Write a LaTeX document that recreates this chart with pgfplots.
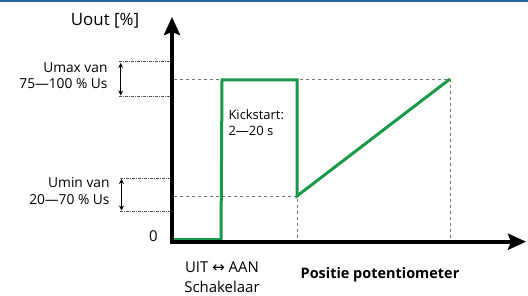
\documentclass[border=0pt]{standalone}
\usepackage{pgfplots}
\pgfplotsset{compat=1.18}
\usepackage{fontspec}
\setmainfont{Open Sans}
\newfontfamily\dejavu{DejaVu Sans}
\usetikzlibrary{arrows.meta}
\definecolor{grn}{HTML}{1A9A48}
\definecolor{topblue}{HTML}{2A64A0}
\definecolor{dgray}{HTML}{555555}
\definecolor{lgray}{HTML}{777777}
\begin{document}
\begin{tikzpicture}[x=1bp,y=1bp]
\path[use as bounding box] (0,0) rectangle (528,295);
\fill[topblue] (0,293.3) rectangle (528,295);
\begin{axis}[
  at={(0,0)}, anchor=south west,
  scale only axis, width=528bp, height=295bp,
  xmin=0, xmax=528, ymin=0, ymax=295,
  axis lines=none, ticks=none, clip=false,
]
% guide lines
\addplot[lgray, line width=0.9bp, dash pattern=on 3bp off 3bp] coordinates {(174,216) (450,216) (450,53)};
\addplot[lgray, line width=0.9bp, dash pattern=on 3bp off 3bp] coordinates {(174,99) (297,99) (297,53)};
% brackets
\addplot[dgray, line width=1bp, dash pattern=on 3bp off 1bp on 1bp off 1bp] coordinates {(119,233) (172,233)};
\addplot[dgray, line width=1bp, dash pattern=on 3bp off 1bp on 1bp off 1bp] coordinates {(119,198.5) (172,198.5)};
\addplot[dgray, line width=1bp, dash pattern=on 3bp off 1bp on 1bp off 1bp] coordinates {(120,117) (172,117)};
\addplot[dgray, line width=1bp, dash pattern=on 3bp off 1bp on 1bp off 1bp] coordinates {(120,83.5) (172,83.5)};
\draw[black, line width=1bp, {Stealth[length=5bp,width=5bp]}-{Stealth[length=5bp,width=5bp]}] (120.7,232) -- (120.7,199.5);
\draw[black, line width=1bp, {Stealth[length=5bp,width=5bp]}-{Stealth[length=5bp,width=5bp]}] (121.5,116) -- (121.5,84.5);
% green curve
\addplot[grn, line width=3bp, line join=miter] coordinates {(172,55.5) (221,55.5) (222,215) (297,215) (297,99) (450,216)};
% axes
\draw[black, line width=4bp, -{Stealth[length=18bp,width=16bp,inset=3bp]}] (172,51.2) -- (172,278);
\draw[black, line width=4bp, -{Stealth[length=18bp,width=16bp,inset=3bp]}] (170,53.3) -- (526,53.3);
% labels
\node[font=\fontsize{17}{18}\selectfont] at (105,274) {Uout [\%]};
\node[font=\fontsize{13.8}{16.5}\selectfont, align=right, anchor=east] at (111,219.5) {Umax van\\75—100 \% Us};
\node[font=\fontsize{13.8}{16.5}\selectfont, align=right, anchor=east] at (113,104) {Umin van\\20—70 \% Us};
\node[font=\fontsize{15}{16}\selectfont] at (153.5,59) {0};
\node[font=\fontsize{13}{16}\selectfont, align=left, anchor=west] at (225,172) {Kickstart:\\2—20 s};
\node[font=\fontsize{15}{20}\selectfont, align=center] at (222,18) {UIT {\dejavu\fontsize{15}{12}\selectfont ↔} AAN\\Schakelaar};
\node[font=\fontsize{14.5}{15}\selectfont\bfseries] at (380,20) {Positie potentiometer};
\end{axis}
\end{tikzpicture}
\end{document}
